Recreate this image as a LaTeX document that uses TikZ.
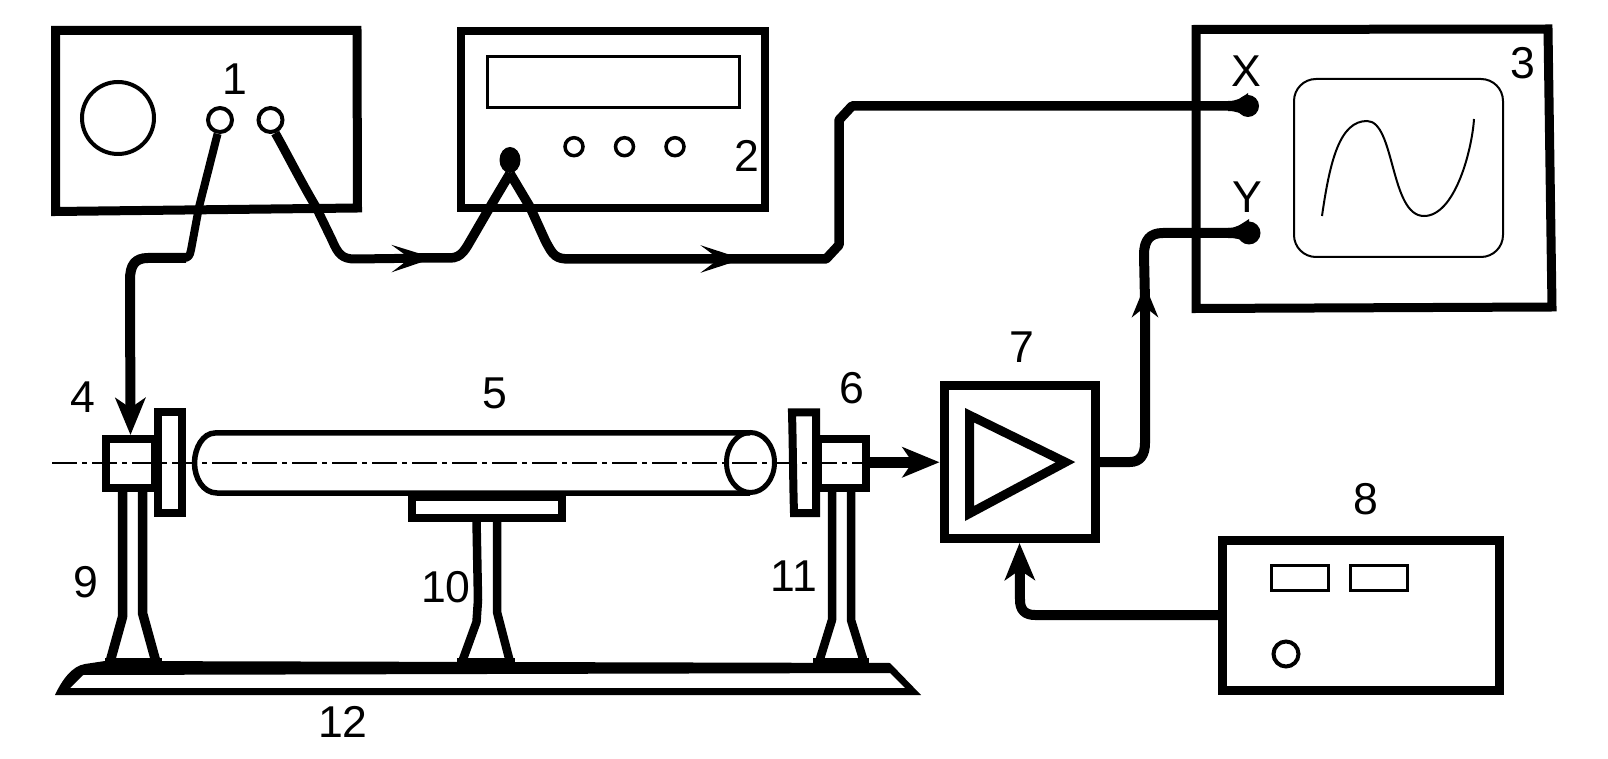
\documentclass[tikz,border=0pt]{standalone}
\usepackage{fontspec}
\setmainfont{Liberation Sans}
\usetikzlibrary{arrows.meta}
\usetikzlibrary{shapes.geometric}
\tikzset{
  x=0.5pt,y=-0.5pt,
  lbl/.style={inner sep=0pt,font=\fontsize{22.3}{24}\selectfont},
  boxn/.style={draw,rectangle,inner sep=0pt,line width=#1},
  ring/.style={draw,circle,inner sep=0pt,minimum size=#1},
  dotn/.style={fill=black,ellipse,inner sep=0pt,minimum width=#1,minimum height=#1},
  wire/.style={line width=#1,line join=round},
  leg/.style={line width=#1,line join=round},
  tipa/.style={-{Stealth[length=21pt,width=13.5pt,inset=9pt]}},
  tipb/.style={-{Stealth[length=18.5pt,width=15pt,inset=5pt]}},
  tipc/.style={-{Stealth[length=16pt,width=13pt,inset=5pt]}},
}
\begin{document}
\begin{tikzpicture}
\useasboundingbox (0,0) rectangle (1608,759);
\fill[white] (0,0) rectangle (1608,759);
% instrument 1
\draw[line width=4.5pt,line join=miter] (55.5,30.5) -- (357,30.5) -- (357.5,208) -- (55.5,211.5) -- cycle;
\node[ring=36pt,line width=2pt] (dial) at (118,118) {};
\node[ring=12pt,line width=2pt] (t1) at (220,120) {};
\node[ring=12pt,line width=2pt] (t2) at (270.5,120) {};
% instrument 2
\node[boxn=4pt,minimum width=152.25pt,minimum height=88.25pt] (box2) at (612.75,119.75) {};
\draw[line width=1.5pt] (487,57) rectangle (739,108);
\node[ring=9pt,line width=1.75pt] (k1) at (574,146.7) {};
\node[ring=9pt,line width=1.75pt] (k2) at (624.5,146.7) {};
\node[ring=9pt,line width=1.75pt] (k3) at (675,146.7) {};
\node[dotn=10.5pt,minimum height=13pt] (td) at (510,160) {};
% oscilloscope 3
\draw[line width=4.5pt,line join=miter] (1196,29.5) -- (1548,29) -- (1552,307) -- (1196,308.5) -- cycle;
\draw[line width=1pt,rounded corners=11pt] (1294,79) rectangle (1503,257);
\draw[line width=1pt] (1322,216) .. controls (1330,160) and (1340,121) .. (1367,121)
  .. controls (1395,121) and (1390,216) .. (1424,216)
  .. controls (1455,216) and (1472,150) .. (1474,119);
\node[dotn=11pt] (tx) at (1248,106) {};
\node[dotn=11.5pt] (ty) at (1249,233) {};
\fill (1228,101) .. controls (1236,101) and (1240,99) .. (1248,93) -- (1248,117) .. controls (1240,113) and (1236,111) .. (1228,111) -- cycle;
\fill (1228,228) .. controls (1236,228) and (1240,225) .. (1249,219) -- (1249,243) .. controls (1240,239) and (1236,238) .. (1228,238) -- cycle;
% amplifier 7
\node[boxn=4.5pt,minimum width=75.5pt,minimum height=76.25pt] (amp) at (1019.5,462.25) {};
\draw[line width=4.5pt,line join=miter] (969.5,415.2) -- (1065.4,462.2) -- (969.5,513.5) -- cycle;
% supply 8
\node[boxn=4.5pt,minimum width=138.75pt,minimum height=75pt] (box8) at (1361,615) {};
\draw[line width=1.5pt] (1271.5,565.5) rectangle (1328.5,590.5);
\draw[line width=1.5pt] (1350.5,565.5) rectangle (1407.5,590.5);
\node[ring=12.5pt,line width=2pt] (k8) at (1286,654) {};
% base plate 12
\fill[even odd rule] (55,695) .. controls (62,680) and (72,666) .. (85,664) -- (105,661) -- (890,663) -- (921,695) -- cycle
  (70,688) -- (83,675) -- (890,673) -- (905,688) -- cycle;
\fill (105,658) rectangle (162,669);
\fill (457,658) rectangle (515,669);
\fill (813,658) rectangle (869,669);
% stands
\draw[leg=4.75pt] (122.5,490) -- (122.5,617) -- (110,662);
\draw[leg=4.75pt] (142.5,490) -- (142.5,613) -- (156,662);
\draw[leg=4.25pt] (476.5,520) -- (478,600) -- (476.5,622) -- (462,662);
\draw[leg=4.25pt] (497,520) -- (497,612) -- (510,662);
\draw[leg=4.25pt] (832,490) -- (832,620) -- (819,662);
\draw[leg=4.25pt] (851,490) -- (851,620) -- (864,662);
% supports, tube
\draw[line width=4pt] (412,497) rectangle (561.5,518);
\draw[line width=2.75pt] (750,433) -- (215,433) .. controls (203,433) and (194.5,448) .. (194.5,463)
   .. controls (194.5,478) and (203,493) .. (217,493) -- (750,493);
\draw[line width=2.5pt] (750.5,462.5) ellipse [x radius=12pt,y radius=15pt];
% transducers
\node[boxn=4pt,minimum width=24.5pt,minimum height=24.5pt] (b4) at (130.5,463.5) {};
\draw[line width=4pt,line join=miter] (157.5,412.5) rectangle (182,512.5);
\draw[line width=4pt,line join=miter] (792,412.5) -- (816,412.5) -- (816,513) -- (794,513) .. controls (793,480) and (793,450) .. (792,412.5) -- cycle;
\node[boxn=4pt,minimum width=24pt,minimum height=24.5pt] (b6) at (842,463.5) {};
% axis
\draw[line width=1pt,dash pattern=on 12.5pt off 2.5pt on 2.5pt off 2.5pt] (52,462.7) -- (863,462.7);
% wires
\draw[wire=4pt] (t1.-100) -- (199,207) -- (191,250) .. controls (190,256) and (188,258) .. (184,258);
\draw[wire=5pt,tipb] (186,258) -- (148,258) .. controls (135,258) and (130,265) .. (130,280) -- (b4.north);
\coordinate (a1) at (434,258);
\coordinate (a2) at (743,259);
\coordinate (a3) at (1145,285);
\draw[wire=4.5pt,tipa] (t2.-70) .. controls (285,150) and (300,180) .. (316,207) -- (332,240) .. controls (338,254) and (342,259) .. (355,259) -- (a1);
\draw[wire=4.75pt] ([xshift=-8pt]a1) -- (450,258) .. controls (462,258) and (466,248) .. (472,238) -- (490,207) -- (td.south);
\draw[wire=4.75pt,tipa] (td.south) -- (530,207) -- (545,240) .. controls (553,256) and (556,259) .. (570,259) -- (a2);
\draw[wire=4.75pt] ([xshift=-8pt]a2) -- (826,259) -- (839,245) -- (839,120) -- (852,106) -- (tx.west);
\draw[wire=5pt,tipc] (amp.east) -- (1130,462) .. controls (1140,462) and (1145,455) .. (1145,443) -- (a3);
\draw[wire=5pt] ([yshift=-8pt]a3) -- (1144,255) .. controls (1144,240) and (1150,233) .. (1163,233) -- (ty.west);
\draw[wire=5.5pt,tipb] (b6.east |- amp.west) -- (amp.west);
\draw[wire=5pt,tipb] (box8.west) -- (1035,615) .. controls (1025,615) and (1020,610) .. (1020,600) -- (amp.south);
% labels
\node[lbl] (l1) at (235,79) {1};
\node[lbl] (l2) at (747,156) {2};
\node[lbl] (l3) at (1523,63.5) {3};
\node[lbl] (l4) at (83,397) {4};
\node[lbl] (l5) at (495,393) {5};
\node[lbl] (l6) at (852,388) {6};
\node[lbl] (l7) at (1022,347.5) {7};
\node[lbl] (l8) at (1366,499) {8};
\node[lbl] (l9) at (86,582) {9};
\node[lbl] (l10) at (446,587.5) {10};
\node[lbl] (l11) at (794,576.5) {11};
\node[lbl] (l12) at (343,721.5) {12};
\node[lbl] (lx) at (1246,71.5) {X};
\node[lbl] (ly) at (1247,197.5) {Y};
\end{tikzpicture}
\end{document}
